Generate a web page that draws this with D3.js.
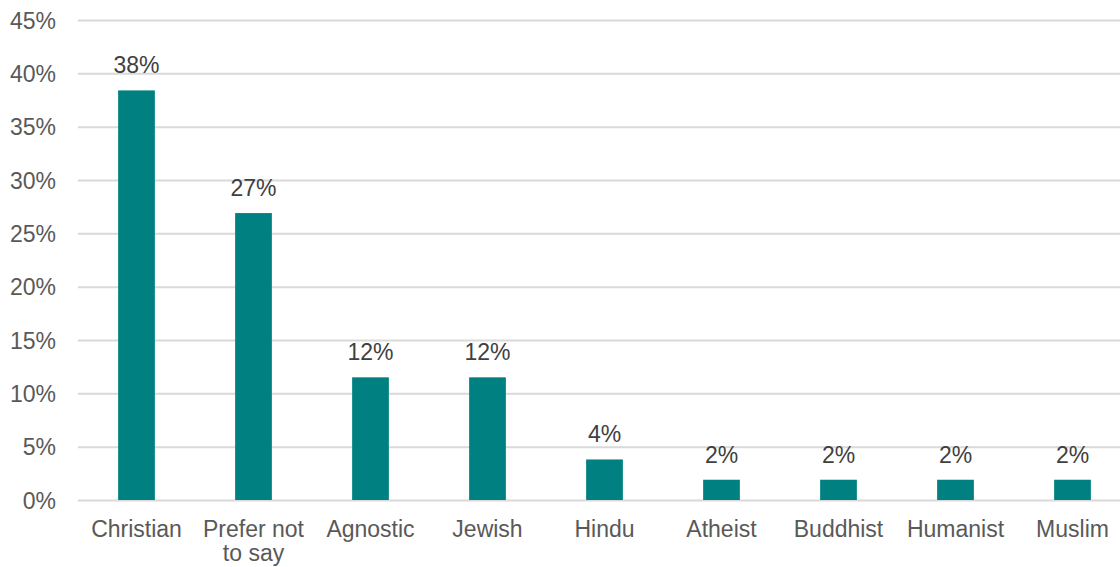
<!DOCTYPE html>
<html>
<head>
<meta charset="utf-8">
<script src="https://cdn.jsdelivr.net/npm/d3@7"></script>
<style>
  html, body { margin: 0; padding: 0; background: #ffffff; }
  svg { display: block; font-family: "Liberation Sans", Arial, sans-serif; }
</style>
</head>
<body>
<svg id="chart" width="1120" height="567"></svg>
<script>
// Religion / belief of respondents (share of total, %)
const categories = ["Christian", "Prefer not to say", "Agnostic", "Jewish", "Hindu",
                    "Atheist", "Buddhist", "Humanist", "Muslim"];
const shares = [38.4, 26.9, 11.5, 11.5, 3.8, 1.9, 1.9, 1.9, 1.9];
const yTicks = [0, 5, 10, 15, 20, 25, 30, 35, 40, 45];

const svg = d3.select("#chart");
const plot = { left: 78, right: 1131, top: 20, bottom: 500 };
const fontSize = "23px";

const x = d3.scaleBand()
  .domain(categories)
  .range([plot.left, plot.right])
  .paddingInner(0.686)
  .paddingOuter(0.343);

const y = d3.scaleLinear()
  .domain([0, 45])
  .range([plot.bottom, plot.top]);

// Horizontal gridlines with percentage tick labels
const yAxis = d3.axisLeft(y)
  .tickValues(yTicks)
  .tickSize(-(plot.right - plot.left))
  .tickPadding(22)
  .tickFormat(d => d + "%");

const gy = svg.append("g")
  .attr("transform", `translate(${plot.left},0)`)
  .call(yAxis);
gy.select(".domain").remove();
gy.selectAll(".tick line")
  .attr("stroke", "#d9d9d9")
  .attr("stroke-width", 2);
gy.selectAll(".tick text")
  .attr("fill", "#595959")
  .attr("font-size", fontSize)
  .attr("dy", "0.36em");

// Bars
const data = categories.map((c, i) => ({ cat: c, value: shares[i] }));

svg.append("g")
  .selectAll("rect")
  .data(data)
  .join("rect")
  .attr("x", d => x(d.cat))
  .attr("width", x.bandwidth())
  .attr("y", d => y(d.value))
  .attr("height", d => y(0) - y(d.value))
  .attr("fill", "#008080");

// Value labels above bars
svg.append("g")
  .selectAll("text")
  .data(data)
  .join("text")
  .attr("x", d => x(d.cat) + x.bandwidth() / 2)
  .attr("y", d => y(d.value) - 17)
  .attr("text-anchor", "middle")
  .attr("fill", "#404040")
  .attr("font-size", fontSize)
  .text(d => Math.round(d.value) + "%");

// Category axis labels, wrapped to the band step
const xAxis = d3.axisBottom(x).tickSize(0).tickPadding(0);
const gx = svg.append("g")
  .attr("transform", `translate(0,${plot.bottom})`)
  .call(xAxis);
gx.select(".domain").remove();
gx.selectAll(".tick text")
  .attr("fill", "#595959")
  .attr("font-size", fontSize)
  .attr("y", 37)
  .attr("dy", 0)
  .each(function () {
    const t = d3.select(this);
    const words = t.text().split(/\s+/);
    const maxW = x.step();
    t.text(null);
    let line = [];
    let tspan = t.append("tspan").attr("x", 0).attr("dy", 0);
    words.forEach(w => {
      line.push(w);
      tspan.text(line.join(" "));
      if (tspan.node().getComputedTextLength() > maxW && line.length > 1) {
        line.pop();
        tspan.text(line.join(" "));
        line = [w];
        tspan = t.append("tspan").attr("x", 0).attr("dy", "24px").text(w);
      }
    });
  });
</script>
</body>
</html>
